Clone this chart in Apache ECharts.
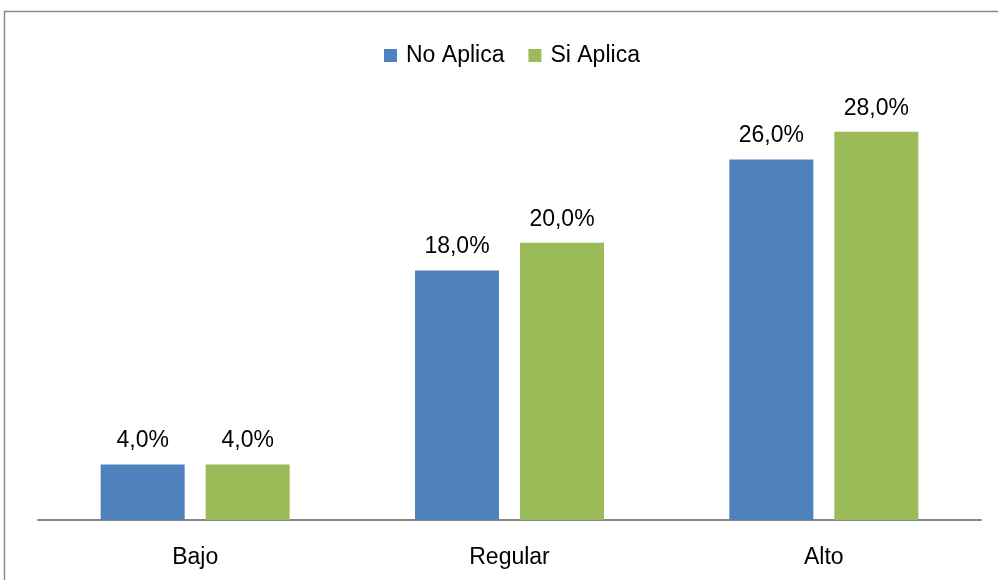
<!DOCTYPE html>
<html>
<head>
<meta charset="utf-8">
<script src="https://cdn.jsdelivr.net/npm/echarts@6/dist/echarts.min.js"></script>
<style>
  html, body { margin: 0; padding: 0; background: #fff; }
  #chart { width: 998px; height: 580px; }
</style>
</head>
<body>
<div id="chart"></div>
<script>
// datos del gráfico
var categorias = ['Bajo', 'Regular', 'Alto'];
var noAplica = [4.0, 18.0, 26.0];
var siAplica = [4.0, 20.0, 28.0];

var fuente = 'Liberation Sans';
var myChart = echarts.init(document.getElementById('chart'));

function etiqueta(p) {
  return p.value.toFixed(1).replace('.', ',') + '%';
}

var option = {
  animation: false,
  textStyle: { fontFamily: fuente },
  graphic: [{
    type: 'rect',
    shape: { x: 4.5, y: 11.5, width: 1000, height: 600 },
    style: { fill: 'none', stroke: '#8c8c8c', lineWidth: 1.5 },
    silent: true
  }],
  legend: {
    top: 39,
    left: 379,
    itemWidth: 13,
    itemHeight: 13,
    itemGap: 24,
    icon: 'rect',
    textStyle: { fontFamily: fuente, fontSize: 23, color: '#000', padding: [0, 0, 0, 4] },
    data: ['No Aplica', 'Si Aplica']
  },
  grid: { left: 38, right: 17, top: 104, bottom: 60 },
  xAxis: {
    type: 'category',
    data: categorias,
    axisLine: { lineStyle: { color: '#868686', width: 2 } },
    axisTick: { show: false },
    axisLabel: { fontFamily: fuente, fontSize: 23, color: '#000', margin: 26 }
  },
  yAxis: {
    type: 'value',
    min: 0,
    max: 30,
    show: false
  },
  series: [
    {
      name: 'No Aplica',
      type: 'bar',
      data: noAplica,
      barWidth: 84,
      barGap: '25%',
      itemStyle: { color: '#4F81BD' },
      label: { show: true, position: 'top', distance: 12, formatter: etiqueta, fontFamily: fuente, fontSize: 23, color: '#000' }
    },
    {
      name: 'Si Aplica',
      type: 'bar',
      data: siAplica,
      barWidth: 84,
      itemStyle: { color: '#9BBB59' },
      label: { show: true, position: 'top', distance: 12, formatter: etiqueta, fontFamily: fuente, fontSize: 23, color: '#000' }
    }
  ]
};
myChart.setOption(option);
</script>
</body>
</html>
